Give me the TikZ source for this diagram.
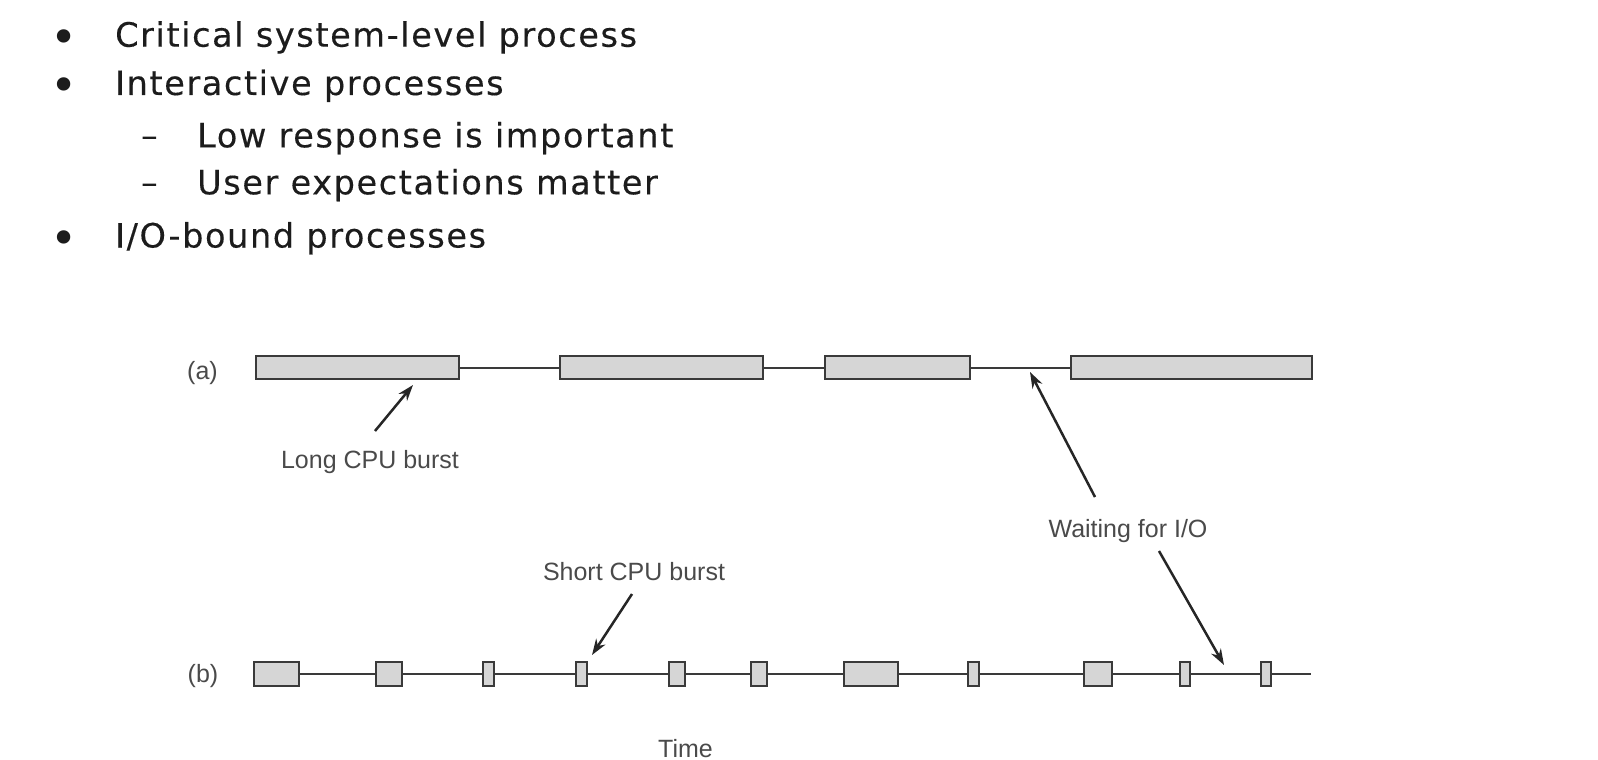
\documentclass[tikz,border=0pt]{standalone}
\usepackage{fontspec}
\setmainfont{Liberation Sans}
\newfontfamily\bulletfont[LetterSpace=4.8,FakeBold=0.3]{DejaVu Sans}
\newfontfamily\markfont{DejaVu Sans}
\usetikzlibrary{arrows.meta}
\definecolor{boxfill}{HTML}{D6D6D6}
\definecolor{boxline}{HTML}{3A3A3A}
\definecolor{labelgray}{HTML}{4A4A4A}
\definecolor{textblack}{HTML}{1C1C1C}
\definecolor{arrowcol}{HTML}{262626}
\begin{document}
\begin{tikzpicture}[x=1pt,y=-1pt,
  bullettext/.style={anchor=base west, inner sep=0pt, text=textblack, font=\bulletfont\fontsize{33.5}{40}\selectfont},
  bulletdot/.style={anchor=base, inner sep=0pt, text=textblack, font=\markfont\fontsize{46}{50}\selectfont},
  dashmark/.style={anchor=base, inner sep=0pt, text=textblack, font=\markfont\fontsize{33.5}{40}\selectfont},
  burst/.style={draw=boxline, fill=boxfill, line width=2pt, inner sep=0pt},
  rowa/.style={burst, minimum height=23pt},
  rowb/.style={burst, minimum height=24pt},
  timeline/.style={draw=boxline, line width=2pt},
  lbl/.style={inner sep=0pt, text=labelgray, font=\fontsize{25}{30}\selectfont},
  arr/.style={draw=arrowcol, line width=2.5pt, -{Stealth[length=16pt,width=11pt]}}
]
\useasboundingbox (0,0) rectangle (1598,760);

% bullet list
\node[bulletdot] (m1) at (64,53.6) {•};
\node[bullettext] (t1) at (115,46.7) {Critical system-level process};
\node[bulletdot] (m2) at (64,101.9) {•};
\node[bullettext] (t2) at (115,95) {Interactive processes};
\node[dashmark] (m3) at (150,147.3) {–};
\node[bullettext] (t3) at (197,147.3) {Low response is important};
\node[dashmark] (m4) at (150,194.3) {–};
\node[bullettext] (t4) at (197,194.3) {User expectations matter};
\node[bulletdot] (m5) at (64,254.4) {•};
\node[bullettext] (t5) at (115,247.5) {I/O-bound processes};

% row (a)
\node[lbl] (la) at (202.5,373) {(a)};
\node[rowa, minimum width=203pt] (a1) at (357.5,367.5) {};
\node[rowa, minimum width=203.5pt] (a2) at (661.25,367.5) {};
\node[rowa, minimum width=145pt] (a3) at (897.5,367.5) {};
\node[rowa, minimum width=241.5pt] (a4) at (1191.25,367.5) {};
\draw[timeline] (a1.east) -- (a2.west) (a2.east) -- (a3.west) (a3.east) -- (a4.west);

% row (b)
\node[lbl] (lb) at (203,676) {(b)};
\node[rowb, minimum width=45pt] (b1) at (276,674) {};
\node[rowb, minimum width=26pt] (b2) at (388.5,674) {};
\node[rowb, minimum width=10.5pt] (b3) at (488.7,674) {};
\node[rowb, minimum width=10.6pt] (b4) at (581.7,674) {};
\node[rowb, minimum width=15.8pt] (b5) at (676.7,674) {};
\node[rowb, minimum width=15.8pt] (b6) at (759.3,674) {};
\node[rowb, minimum width=54pt] (b7) at (871.2,674) {};
\node[rowb, minimum width=10.7pt] (b8) at (973.6,674) {};
\node[rowb, minimum width=28pt] (b9) at (1097.7,674) {};
\node[rowb, minimum width=10pt] (b10) at (1185,674) {};
\node[rowb, minimum width=10.3pt] (b11) at (1266.1,674) {};
\coordinate (bend) at (1311,674);
\foreach \p/\q in {b1/b2,b2/b3,b3/b4,b4/b5,b5/b6,b6/b7,b7/b8,b8/b9,b9/b10,b10/b11}
  \draw[timeline] (\p.east) -- (\q.west);
\draw[timeline] (b11.east) -- (bend);

% labels
\node[lbl] (long) at (370,462) {Long CPU burst};
\node[lbl] (wait) at (1128,531) {Waiting for I/O};
\node[lbl] (short) at (634,572) {Short CPU burst};
\node[lbl, anchor=base, text depth=0pt] (time) at (685.5,757.5) {Time};

% arrows
\coordinate (longtail) at (375,431);
\coordinate (longtip) at (413,385);
\coordinate (waitatail) at (1095,497);
\coordinate (waitatip) at (1030,372);
\coordinate (waitbtail) at (1159,551);
\coordinate (waitbtip) at (1224,665);
\coordinate (shorttail) at (632,594);
\coordinate (shorttip) at (592,655);
\draw[arr] (longtail) -- (longtip);
\draw[arr] (waitatail) -- (waitatip);
\draw[arr] (waitbtail) -- (waitbtip);
\draw[arr] (shorttail) -- (shorttip);
\end{tikzpicture}
\end{document}
